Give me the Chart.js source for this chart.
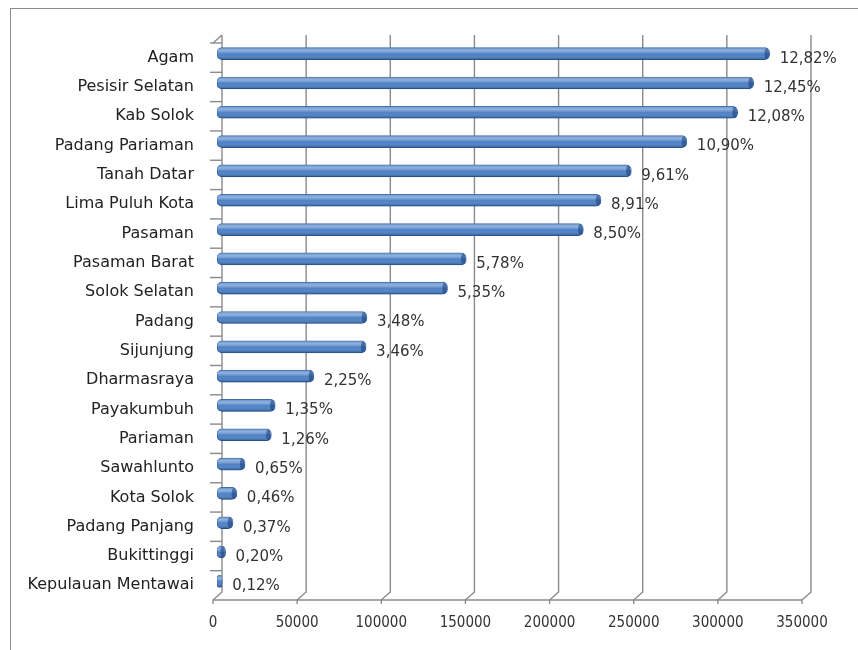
<!DOCTYPE html>
<html>
<head>
<meta charset="utf-8">
<script src="https://cdn.jsdelivr.net/npm/chart.js@4.4.1/dist/chart.umd.min.js"></script>
<style>
  html, body { margin: 0; padding: 0; background: #fff; }
  #wadah { width: 858px; height: 650px; }
</style>
</head>
<body>
<div id="wadah"><canvas id="grafik"></canvas></div>
<script>
// Data per kabupaten/kota
const kategori = [
  "Agam", "Pesisir Selatan", "Kab Solok", "Padang Pariaman", "Tanah Datar",
  "Lima Puluh Kota", "Pasaman", "Pasaman Barat", "Solok Selatan", "Padang",
  "Sijunjung", "Dharmasraya", "Payakumbuh", "Pariaman", "Sawahlunto",
  "Kota Solok", "Padang Panjang", "Bukittinggi", "Kepulauan Mentawai"
];
const jumlah = [
  328400, 318900, 309400, 279200, 246200,
  228200, 217700, 148100, 137000, 89100,
  88600, 57600, 34600, 32300, 16700,
  11800, 9500, 5100, 3100
];
const persen = [
  "12,82%", "12,45%", "12,08%", "10,90%", "9,61%",
  "8,91%", "8,50%", "5,78%", "5,35%", "3,48%",
  "3,46%", "2,25%", "1,35%", "1,26%", "0,65%",
  "0,46%", "0,37%", "0,20%", "0,12%"
];
const nilaiTick = [0, 50000, 100000, 150000, 200000, 250000, 300000, 350000];

const warnaGaris = "#8a8a8a";
const dalam = { dx: 9, dy: -8 }; // kedalaman efek 3D

// Bingkai luar + dinding 3D (grid)
const latar3D = {
  id: "latar3D",
  beforeDraw(chart) {
    const c = chart.ctx;
    c.save();
    c.strokeStyle = "#8c8c8c";
    c.lineWidth = 1;
    c.strokeRect(10.5, 8.5, 900, 700);
    c.restore();
  },
  beforeDatasetsDraw(chart) {
    const c = chart.ctx;
    const x = chart.scales.x;
    const a = chart.chartArea;
    c.save();
    c.strokeStyle = warnaGaris;
    c.lineWidth = 1.4;
    // garis grid vertikal (dinding belakang) dan lantai miring
    nilaiTick.forEach(v => {
      const fx = x.getPixelForValue(v);
      const bx = fx + dalam.dx;
      c.beginPath();
      c.moveTo(bx, a.top + dalam.dy);
      c.lineTo(bx, a.bottom + dalam.dy);
      c.lineTo(fx, a.bottom);
      c.lineTo(fx, a.bottom + 4);
      c.stroke();
    });
    // lantai depan
    c.beginPath();
    c.moveTo(a.left, a.bottom);
    c.lineTo(a.right, a.bottom);
    c.stroke();
    // sudut kiri atas
    c.beginPath();
    c.moveTo(a.left, a.top);
    c.lineTo(a.left + dalam.dx, a.top + dalam.dy);
    c.stroke();
    // tanda kategori
    for (let i = 0; i < kategori.length; i++) {
      const py = a.top + (a.bottom - a.top) * i / kategori.length;
      c.beginPath();
      c.moveTo(a.left - 3, py);
      c.lineTo(a.left + dalam.dx, py);
      c.stroke();
    }
    c.restore();
    c.save();
    c.translate(4, -4);
  },
  afterDatasetsDraw(chart) {
    const c = chart.ctx;
    const meta = chart.getDatasetMeta(0);
    // kilau silinder
    meta.data.forEach(bar => {
      const top = bar.y - bar.height / 2;
      const w = bar.x - bar.base;
      const g = c.createLinearGradient(0, top, 0, top + bar.height);
      g.addColorStop(0, "rgba(255,255,255,0.15)");
      g.addColorStop(0.25, "rgba(255,255,255,0.40)");
      g.addColorStop(0.55, "rgba(255,255,255,0)");
      g.addColorStop(1, "rgba(0,20,60,0.35)");
      c.beginPath();
      c.roundRect(bar.base, top, w, bar.height, Math.min(5, w / 2));
      c.fillStyle = g;
      c.fill();
      // tutup ujung
      if (w > 6) {
        c.beginPath();
        c.ellipse(bar.x - 3, bar.y, 2.2, bar.height / 2 - 0.8, 0, 0, Math.PI * 2);
        c.fillStyle = "rgba(25,60,120,0.55)";
        c.fill();
      }
    });
    c.restore();
    // label persen
    c.save();
    c.font = "15px 'DejaVu Sans', sans-serif";
    c.fillStyle = "#333";
    c.textAlign = "left";
    c.textBaseline = "middle";
    meta.data.forEach((bar, i) => {
      c.fillText(persen[i], bar.x + 14, bar.y + 1);
    });
    c.restore();
  }
};

new Chart(document.getElementById("grafik"), {
  type: "bar",
  data: {
    labels: kategori,
    datasets: [{
      data: jumlah,
      backgroundColor: "#4a80c6",
      borderColor: "#30609f",
      borderWidth: 1,
      borderSkipped: false,
      borderRadius: 5,
      barThickness: 12
    }]
  },
  options: {
    indexAxis: "y",
    responsive: true,
    maintainAspectRatio: false,
    animation: false,
    layout: { padding: { left: 0, right: 56, top: 43, bottom: 0 } },
    plugins: {
      legend: { display: false },
      tooltip: { enabled: false }
    },
    scales: {
      x: {
        min: 0,
        max: 350000,
        afterBuildTicks: s => { s.ticks = nilaiTick.map(v => ({ value: v })); },
        afterFit: s => { s.height = 50; },
        grid: { display: false, drawTicks: false },
        border: { display: false },
        ticks: {
          padding: 14,
          color: "#333",
          font: { family: "'Liberation Sans Narrow', 'DejaVu Sans Condensed', 'Liberation Sans', sans-serif", size: 15 },
          callback: v => String(v)
        }
      },
      y: {
        afterFit: s => { s.width = 213; },
        grid: { display: false, drawTicks: false },
        border: { display: false },
        ticks: {
          padding: 19,
          color: "#222",
          font: { family: "'DejaVu Sans', sans-serif", size: 16 }
        }
      }
    }
  },
  plugins: [latar3D]
});
</script>
</body>
</html>
